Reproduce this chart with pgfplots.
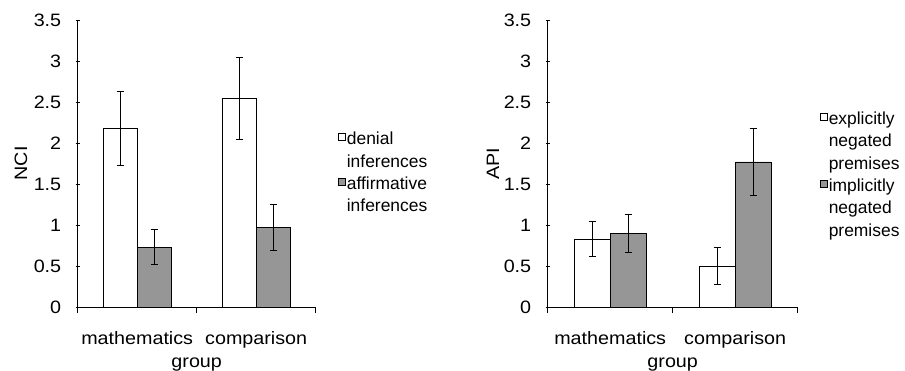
\documentclass[border=0pt]{standalone}
\usepackage{fontspec}
\setmainfont{Liberation Sans}[FakeStretch=1.1]
\newfontfamily\legendfont{Liberation Sans}
\usepackage{pgfplots}
\pgfplotsset{compat=1.18}
\definecolor{barGray}{RGB}{150,150,150}
\pgfplotsset{
  mystyle/.style={
    scale only axis, height=287bp,
    ymin=0, ymax=3.5, ytick={0,0.5,1,1.5,2,2.5,3,3.5},
    xmin=-0.5, xmax=1.5, xtick={0,1},
    xticklabels={mathematics,comparison},
    minor xtick={-0.5,0.5,1.5},
    major x tick style={draw=none},
    minor x tick style={black, line width=0.8bp},
    major y tick style={black, line width=0.8bp},
    major tick length=4bp, minor tick length=6bp,
    tick align=outside,
    axis x line=bottom, axis y line=left,
    axis line style={-, line width=0.8bp, black},
    /pgf/number format/assume math mode=true,
    xlabel={group},
    xticklabel style={yshift=-17bp},
    yticklabel style={xshift=-11bp},
    ybar=0pt,
    legend style={draw=none, fill=none, inner sep=0pt, anchor=north west,
      cells={anchor=north west, align=left}, font=\legendfont\fontsize{17.5}{20.5}\selectfont,
      nodes={inner sep=1bp}, row sep=6bp},
    legend image code/.code={\draw[#1, line width=0.6bp] (-1bp,-9.8bp) rectangle (6bp,-2.8bp);},
  },
  errstyle/.style={
    error bars/.cd, y dir=both, y explicit,
    error bar style={line width=0.8bp, black},
    error mark options={rotate=90, mark size=3.5bp, line width=0.8bp, black}
  }
}
\begin{document}
\begin{tikzpicture}[font=\fontsize{18}{21}\selectfont]
\useasboundingbox (0,0) rectangle (905bp,371bp);
\begin{axis}[mystyle, width=238bp, at={(77.7bp,64bp)}, anchor=south west,
  bar width=34bp, ylabel={NCI},
  ylabel style={at={(axis description cs:-0.238,0.5)}, anchor=center},
  xlabel style={at={(axis description cs:0.5,-0.2)}, anchor=center},
  legend style={at={(axis description cs:1.094,0.6143)}}]
\addplot[fill=white, draw=black, line width=0.6bp, errstyle]
  coordinates {(0,2.18) +- (0,0.45) (1,2.54) +- (0,0.50)};
\addlegendentry{denial\\[2bp]inferences}
\addplot[fill=barGray, draw=black, line width=0.6bp, errstyle]
  coordinates {(0,0.73) +- (0,0.215) (1,0.97) +- (0,0.285)};
\addlegendentry{affirmative\\[2bp]inferences}
\end{axis}
\begin{axis}[mystyle, width=250bp, at={(547.7bp,64bp)}, anchor=south west,
  bar width=36bp, ylabel={API},
  ylabel style={at={(axis description cs:-0.219,0.5)}, anchor=center},
  xlabel style={at={(axis description cs:0.5,-0.2)}, anchor=center},
  legend style={at={(axis description cs:1.089,0.6855)}}]
\addplot[fill=white, draw=black, line width=0.6bp, errstyle]
  coordinates {(0,0.83) +- (0,0.215) (1,0.50) +- (0,0.225)};
\addlegendentry{explicitly\\[2bp]negated\\[2bp]premises}
\addplot[fill=barGray, draw=black, line width=0.6bp, errstyle]
  coordinates {(0,0.90) +- (0,0.23) (1,1.77) +- (0,0.41)};
\addlegendentry{implicitly\\[2bp]negated\\[2bp]premises}
\end{axis}
\end{tikzpicture}
\end{document}
